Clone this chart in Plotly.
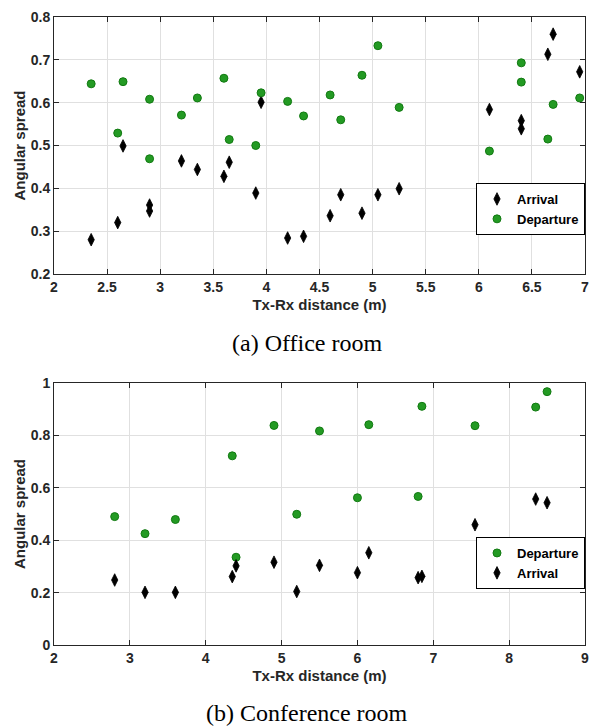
import plotly.graph_objects as go

# ---- Data: (a) Office room ----
office_arr_x = [2.35, 2.6, 2.65, 2.9, 2.9, 3.2, 3.35, 3.6, 3.65, 3.9, 3.95, 4.2,
                4.35, 4.6, 4.7, 4.9, 5.05, 5.25, 6.1, 6.4, 6.4, 6.65, 6.7, 6.95]
office_arr_y = [0.280, 0.320, 0.499, 0.361, 0.347, 0.464, 0.444, 0.428, 0.461, 0.389, 0.601, 0.284,
                0.288, 0.336, 0.385, 0.342, 0.385, 0.399, 0.584, 0.558, 0.539, 0.713, 0.760, 0.672]
office_dep_x = [2.35, 2.6, 2.65, 2.9, 2.9, 3.2, 3.35, 3.6, 3.65, 3.9, 3.95, 4.2,
                4.35, 4.6, 4.7, 4.9, 5.05, 5.25, 6.1, 6.4, 6.4, 6.65, 6.7, 6.95]
office_dep_y = [0.644, 0.529, 0.649, 0.608, 0.469, 0.571, 0.611, 0.657, 0.514, 0.500, 0.623, 0.603,
                0.569, 0.618, 0.560, 0.664, 0.733, 0.589, 0.487, 0.693, 0.648, 0.515, 0.596, 0.611]

# ---- Data: (b) Conference room ----
conf_dep_x = [2.8, 3.2, 3.6, 4.35, 4.4, 4.9, 5.2, 5.5, 6.0, 6.15, 6.8, 6.85, 7.55, 8.35, 8.5]
conf_dep_y = [0.490, 0.425, 0.479, 0.722, 0.335, 0.838, 0.499, 0.817, 0.562, 0.841, 0.567, 0.911, 0.837, 0.908, 0.967]
conf_arr_x = [2.8, 3.2, 3.6, 4.35, 4.4, 4.9, 5.2, 5.5, 6.0, 6.15, 6.8, 6.85, 7.55, 8.35, 8.5]
conf_arr_y = [0.248, 0.201, 0.201, 0.261, 0.302, 0.316, 0.204, 0.304, 0.276, 0.352, 0.257, 0.262, 0.459, 0.557, 0.543]

office_xticks = [2, 2.5, 3, 3.5, 4, 4.5, 5, 5.5, 6, 6.5, 7]
office_yticks = [0.2, 0.3, 0.4, 0.5, 0.6, 0.7, 0.8]
conf_xticks = [2, 3, 4, 5, 6, 7, 8, 9]
conf_yticks = [0, 0.2, 0.4, 0.6, 0.8, 1]

GREEN = "#239a23"
GREEN_EDGE = "#127a12"
AX = "#262626"
GRID = "#e0e0e0"

arr_marker = dict(symbol="diamond-tall", size=9, color="black", line=dict(color="black", width=0.8))
dep_marker = dict(symbol="circle", size=8, color=GREEN, line=dict(color=GREEN_EDGE, width=1))

fig = go.Figure()
fig.add_trace(go.Scatter(x=office_arr_x, y=office_arr_y, mode="markers", name="<b>Arrival</b>",
                         marker=arr_marker, xaxis="x", yaxis="y", legend="legend"))
fig.add_trace(go.Scatter(x=office_dep_x, y=office_dep_y, mode="markers", name="<b>Departure</b>",
                         marker=dep_marker, xaxis="x", yaxis="y", legend="legend"))
fig.add_trace(go.Scatter(x=conf_dep_x, y=conf_dep_y, mode="markers", name="<b>Departure</b>",
                         marker=dep_marker, xaxis="x2", yaxis="y2", legend="legend2"))
fig.add_trace(go.Scatter(x=conf_arr_x, y=conf_arr_y, mode="markers", name="<b>Arrival</b>",
                         marker=arr_marker, xaxis="x2", yaxis="y2", legend="legend2"))

tickfont = dict(family="Liberation Sans, Arial", size=14, color=AX)
titlefont = dict(family="Liberation Sans, Arial", size=15, color=AX)

def ax_common():
    return dict(showline=True, linecolor=AX, linewidth=1, mirror="ticks",
                ticks="inside", ticklen=5, tickcolor=AX, tickwidth=1,
                showgrid=True, gridcolor=GRID, gridwidth=1, zeroline=False,
                tickfont=tickfont, automargin=False, ticklabeloverflow="allow")

def bold_ticks(vals, fmt):
    return [f"<b>{fmt(v)}</b>" for v in vals]

def fmt_num(v):
    return f"{v:g}"

H = 628.0
top_y0 = 1 - 257 / H
bot_y1 = 1 - 366 / H

legfont = dict(family="Liberation Sans, Arial", size=13, color="black")

fig.update_layout(
    width=603, height=727,
    margin=dict(l=46, r=26, t=9, b=90),
    paper_bgcolor="white", plot_bgcolor="white",
    xaxis=dict(domain=[0, 1], range=[2, 7], tickvals=office_xticks,
               ticktext=bold_ticks(office_xticks, fmt_num), anchor="y",
               title=dict(text="<b>Tx-Rx distance (m)</b>", font=titlefont, standoff=5),
               **ax_common()),
    yaxis=dict(domain=[top_y0, 1], range=[0.2, 0.8], tickvals=office_yticks,
               ticktext=bold_ticks(office_yticks, lambda v: f"{v:.1f}"), anchor="x",
               title=dict(text="<b>Angular spread</b>", font=titlefont, standoff=1),
               **ax_common()),
    xaxis2=dict(domain=[0, 1], range=[2, 9], tickvals=conf_xticks,
                ticktext=bold_ticks(conf_xticks, fmt_num), anchor="y2",
                title=dict(text="<b>Tx-Rx distance (m)</b>", font=titlefont, standoff=5),
                **ax_common()),
    yaxis2=dict(domain=[0, bot_y1], range=[0, 1], tickvals=conf_yticks,
                ticktext=bold_ticks(conf_yticks, fmt_num), anchor="x2",
                title=dict(text="<b>Angular spread</b>", font=titlefont, standoff=1),
                **ax_common()),
    legend=dict(x=1, xanchor="right", y=1 - 192 / H, yanchor="middle",
                bgcolor="white", bordercolor="black", borderwidth=1,
                font=legfont, itemwidth=30, tracegroupgap=0),
    legend2=dict(x=1, xanchor="right", y=1 - 546 / H, yanchor="middle",
                 bgcolor="white", bordercolor="black", borderwidth=1,
                 font=legfont, itemwidth=30, tracegroupgap=0),
    showlegend=True,
)

capfont = dict(family="Liberation Serif, Times New Roman", size=24, color="black")
fig.add_annotation(text="(a) Office room", xref="paper", yref="paper",
                   x=0.476, y=1 - 326 / H, xanchor="center", yanchor="middle", showarrow=False,
                   font=capfont)
fig.add_annotation(text="(b) Conference room", xref="paper", yref="paper",
                   x=0.476, y=1 - 696 / H, xanchor="center", yanchor="middle", showarrow=False,
                   font=capfont)

fig.write_html("out.html")
